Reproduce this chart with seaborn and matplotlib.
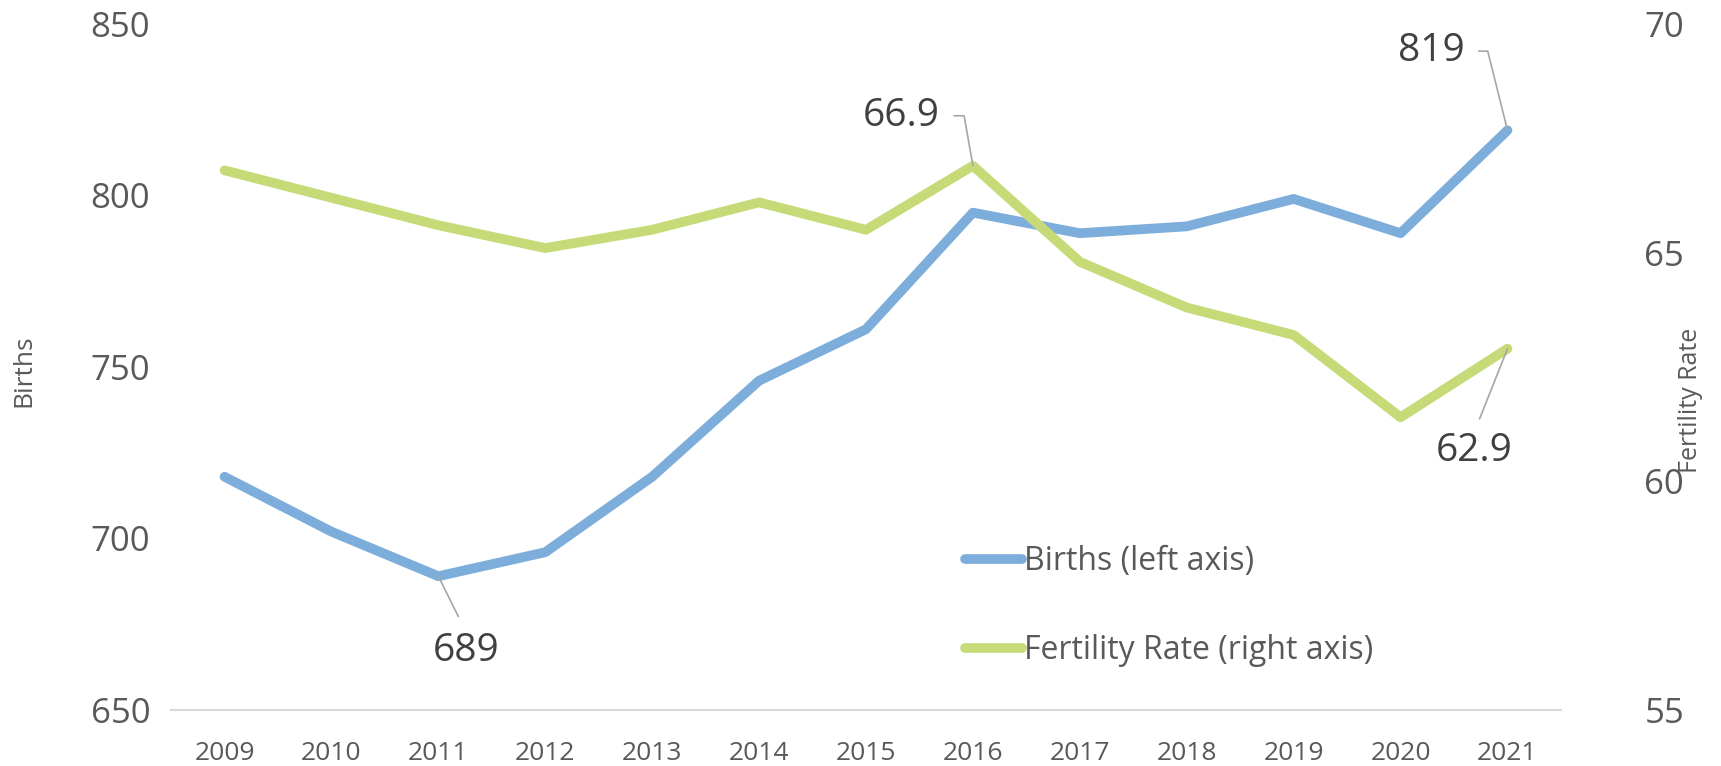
import pandas as pd
import matplotlib.pyplot as plt
import seaborn as sns

# Values
years = [2009, 2010, 2011, 2012, 2013, 2014, 2015, 2016, 2017, 2018, 2019, 2020, 2021]
births = [718, 702, 689, 696, 718, 746, 761, 795, 789, 791, 799, 789, 819]
fertility = [66.8, 66.2, 65.6, 65.1, 65.5, 66.1, 65.5, 66.9, 64.8, 63.8, 63.2, 61.4, 62.9]

df = pd.DataFrame({'Year': years, 'Births': births, 'Fertility': fertility})

blue = '#7DAEDB'
green = '#C6DB78'
grey = '#595959'

sns.set_style('white')
plt.rcParams['font.family'] = ['Open Sans', 'DejaVu Sans']

fig = plt.figure(figsize=(17.21, 7.66), dpi=100)
ax = fig.add_axes([0.0994, 0.0731, 0.8076, 0.8956])
ax2 = ax.twinx()

sns.lineplot(data=df, x='Year', y='Births', ax=ax, color=blue, linewidth=7,
             solid_capstyle='round', solid_joinstyle='round', label='Births (left axis)', legend=False)
sns.lineplot(data=df, x='Year', y='Fertility', ax=ax2, color=green, linewidth=7,
             solid_capstyle='round', solid_joinstyle='round', label='Fertility Rate (right axis)', legend=False)

ax.set_xlim(years[0] - 0.5, years[-1] + 0.5)
ax.set_ylim(650, 850)
ax2.set_ylim(55, 70)
ax.set_xticks(years)
ax.set_xticklabels([str(y) for y in years])
ax.set_yticks([650, 700, 750, 800, 850])
ax2.set_yticks([55, 60, 65, 70])

ax.tick_params(axis='x', length=0, pad=22, labelsize=19, labelcolor=grey)
ax.tick_params(axis='y', length=0, pad=15, labelsize=25, labelcolor=grey)
ax2.tick_params(axis='y', length=0, pad=60, labelsize=25, labelcolor=grey)

ax.set_xlabel('')
ax.set_ylabel('Births', fontsize=19, color=grey)
ax2.set_ylabel('Fertility Rate', fontsize=18, color=grey)
ax.yaxis.set_label_coords(-0.097, 0.494)
ax2.yaxis.set_label_coords(1.084, 0.452)

for a in (ax, ax2):
    for s in ('top', 'left', 'right', 'bottom'):
        a.spines[s].set_visible(False)
ax.spines['bottom'].set_visible(True)
ax.spines['bottom'].set_color('#D9D9D9')
ax.spines['bottom'].set_linewidth(1.5)

lead = dict(arrowstyle='-', color='#A6A6A6', lw=1.2, shrinkB=0)
txt = dict(fontsize=28, color='#404040', va='center')

i = births.index(min(births))
ax.annotate(str(births[i]), xy=(years[i], births[i]), xytext=(20, -54), textcoords='offset points',
            ha='center', arrowprops=dict(lead, relpos=(0.5, 1.0), shrinkA=10), **txt)
ax.annotate(str(births[-1]), xy=(years[-1], births[-1]), xytext=(-31, 57), textcoords='offset points',
            ha='right',
            arrowprops=dict(lead, relpos=(1.0, 0.5), shrinkA=8,
                            connectionstyle='angle,angleA=0,angleB=104,rad=0'),
            **txt)
j = fertility.index(max(fertility))
ax2.annotate(f'{fertility[j]:.1f}', xy=(years[j], fertility[j]), xytext=(-24, 36), textcoords='offset points',
             ha='right',
             arrowprops=dict(lead, relpos=(1.0, 0.5), shrinkA=8,
                             connectionstyle='angle,angleA=0,angleB=100,rad=0'),
             **txt)
ax2.annotate(f'{fertility[-1]:.1f}', xy=(years[-1], fertility[-1]), xytext=(-24, -74), textcoords='offset points',
             ha='center', arrowprops=dict(lead, relpos=(0.5, 1.0), shrinkA=8), **txt)

h1, l1 = ax.get_legend_handles_labels()
h2, l2 = ax2.get_legend_handles_labels()
ax2.legend(h1 + h2, l1 + l2, loc='upper left', bbox_to_anchor=(0.562, 0.259), frameon=False,
           fontsize=23, labelcolor=grey, handlelength=1.8, handletextpad=0.05, labelspacing=1.75,
           borderaxespad=0)

fig.savefig('out.png', dpi=100)
